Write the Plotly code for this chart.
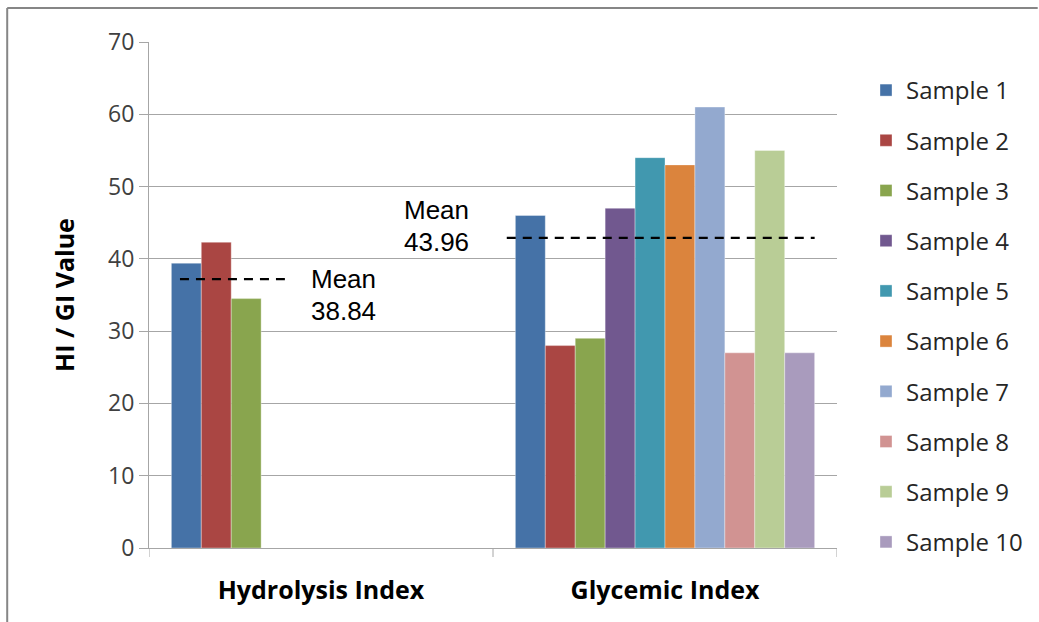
import plotly.graph_objects as go

categories = ["Hydrolysis Index", "Glycemic Index"]
series_names = [f"Sample {i}" for i in range(1, 11)]
hydrolysis_values = [39.4, 42.3, 34.5, None, None, None, None, None, None, None]
glycemic_values = [46, 28, 29, 47, 54, 53, 61, 27, 55, 27]
colors = ["#4572A7", "#AA4643", "#89A54E", "#71588F", "#4198AF",
          "#DB843D", "#93A9CF", "#D19392", "#B9CD96", "#A99BBD"]
mean_labels = ["38.84", "43.96"]
mean_line_y = [37.2, 42.9]

fig = go.Figure()
for i, name in enumerate(series_names):
    fig.add_trace(go.Bar(
        x=categories,
        y=[hydrolysis_values[i], glycemic_values[i]],
        name=name,
        marker=dict(color=colors[i], line=dict(color="rgba(255,255,255,0.35)", width=1)),
        legendgroup=name,
    ))

W, H = 1039, 622
L, R, T, B = 149, 838, 42, 548
pw = R - L
ph = B - T

fig.update_layout(
    width=W, height=H,
    margin=dict(l=L, r=W - R, t=T, b=H - B),
    paper_bgcolor="white", plot_bgcolor="white",
    barmode="group", bargap=0.13, bargroupgap=0,
    font=dict(family="Open Sans", color="#262626"),
    legend=dict(
        x=(866 - L) / pw, y=1 - 26 / ph,
        xanchor="left", yanchor="top",
        font=dict(size=24, family="Open Sans", color="#262626"),
        tracegroupgap=16, bgcolor="rgba(0,0,0,0)",
    ),
    showlegend=True,
)

fig.update_yaxes(
    range=[0, 70], dtick=10,
    showgrid=True, gridcolor="#a6a6a6", gridwidth=1,
    showline=True, linecolor="#a6a6a6", linewidth=1,
    ticks="outside", ticklen=9, tickcolor="#a6a6a6",
    tickfont=dict(size=23, family="Open Sans", color="#404040"),
    zeroline=False,
    title=dict(text="<b>HI / GI Value</b>", font=dict(size=25, family="Open Sans", color="#000000"), standoff=26),
)
fig.update_xaxes(
    showline=True, linecolor="#a6a6a6", linewidth=1,
    ticks="", showgrid=False,
    tickfont=dict(size=25, family="Open Sans", color="#000000"),
    ticklabelstandoff=20,
    tickvals=[0, 1], ticktext=["<b>Hydrolysis Index</b>", "<b>Glycemic Index</b>"],
    range=[-0.5, 1.5],
)

# category boundary ticks on x axis
for xb in [-0.5, 0.5, 1.5]:
    fig.add_shape(type="line", xref="x", yref="paper", x0=xb, x1=xb, y0=0, y1=-9 / ph,
                  line=dict(color="#a6a6a6", width=1))

# mean lines
fig.add_shape(type="line", xref="x", yref="y", x0=-0.41, x1=-0.105,
              y0=mean_line_y[0], y1=mean_line_y[0], line=dict(color="black", width=2.2, dash="9px,7px"))
fig.add_shape(type="line", xref="x", yref="y", x0=0.54, x1=1.435,
              y0=mean_line_y[1], y1=mean_line_y[1], line=dict(color="black", width=2.2, dash="9px,7px"))

# mean labels
for xa, ym, yv, lab in [(-0.035, 37.2, 32.8, mean_labels[0]), (0.235, 46.7, 42.3, mean_labels[1])]:
    fig.add_annotation(x=xa, y=ym, xref="x", yref="y", text="Mean", showarrow=False,
                       xanchor="left", yanchor="middle",
                       font=dict(size=26, family="Liberation Sans", color="black"))
    fig.add_annotation(x=xa, y=yv, xref="x", yref="y", text=lab, showarrow=False,
                       xanchor="left", yanchor="middle",
                       font=dict(size=26, family="Liberation Sans", color="black"))

# outer chart border (left and top visible)
fig.add_shape(type="line", xref="paper", yref="paper",
              x0=(7 - L) / pw, x1=(W - L) / pw, y0=1 + (T - 8) / ph, y1=1 + (T - 8) / ph,
              line=dict(color="#868686", width=2))
fig.add_shape(type="line", xref="paper", yref="paper",
              x0=(7 - L) / pw, x1=(7 - L) / pw, y0=1 + (T - 8) / ph, y1=-(H - B) / ph,
              line=dict(color="#868686", width=2))

fig.write_html("out.html", config={"displayModeBar": False},
               post_script="document.body.style.margin='0';document.body.style.overflow='hidden';")
